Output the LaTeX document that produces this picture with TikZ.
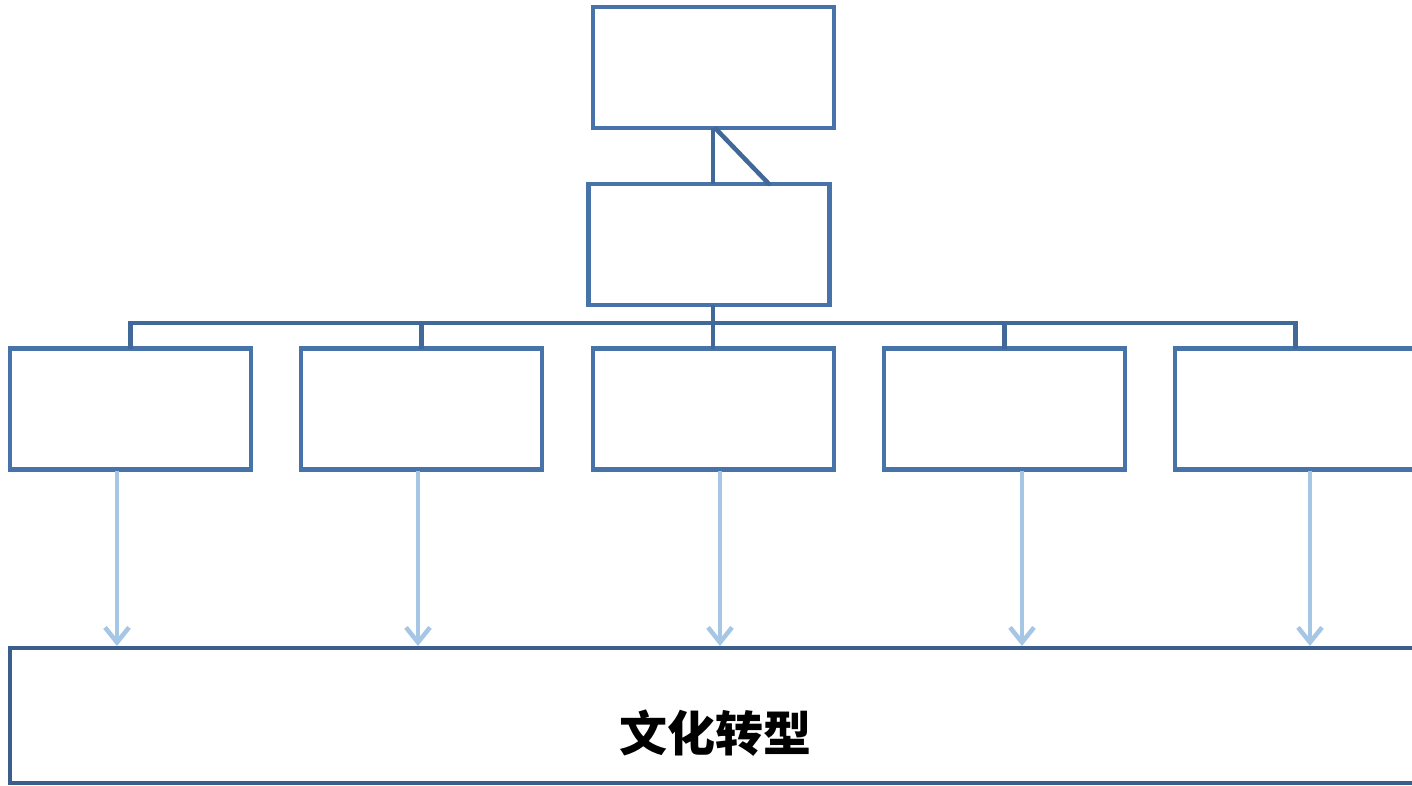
\documentclass[tikz,border=0pt]{standalone}
\usepackage{fontspec}
\newfontfamily\cjk{Noto Sans CJK SC}
\usetikzlibrary{arrows.meta,calc}
\definecolor{boxblue}{RGB}{72,115,168}
\definecolor{linkblue}{RGB}{64,104,152}
\definecolor{basblue}{RGB}{60,94,140}
\definecolor{arrblue}{RGB}{166,198,230}
\tikzset{
  box/.style={draw=boxblue, line width=4.5pt, minimum width=241pt, minimum height=121pt, inner sep=0pt, outer sep=0pt},
  link/.style={draw=linkblue, line width=4.5pt},
  flow/.style={draw=arrblue, line width=4.5pt, -{Straight Barb[length=15pt,width=24pt]}},
}
\begin{document}
\begin{tikzpicture}[x=1pt,y=-1pt]
\useasboundingbox (0,0) rectangle (1412,785);
\clip (0,0) rectangle (1412,785);
\node[box] (top) at (713.5,67.5) {};
\node[box] (mid) at (709,244.5) {};
\node[box] (b1) at (130.5,409) {};
\node[box] (b2) at (421.5,409) {};
\node[box] (b3) at (713.5,409) {};
\node[box] (b4) at (1004.5,409) {};
\node[box] (b5) at (1295.5,409) {};
\node[draw=basblue, line width=4.5pt, minimum width=1420pt, minimum height=135pt, inner sep=0pt, outer sep=0pt, anchor=north west] (base) at (10,648) {};
\node (lbl) at (715,733) {\cjk\bfseries\fontsize{48pt}{52pt}\selectfont 文化转型};
% top links
\coordinate (tj) at (713,128);
\coordinate (dj) at (769,184);
\draw[link] (tj) -- (tj |- mid.north);
\draw[link, line cap=round] ($(tj)+(3,1)$) -- (dj);
% bus
\coordinate (bus) at (713,323);
\draw[link] (bus |- mid.south) -- (bus |- b3.north);
\draw[link] (b1.north) -- (b1.north |- bus) -- (b5.north |- bus) -- (b5.north);
\draw[link] (b2.north) -- (b2.north |- bus);
\draw[link] (b4.north) -- (b4.north |- bus);
% arrows
\foreach \n/\x in {b1/117,b2/418,b3/720,b4/1022,b5/1310}{
  \draw[flow] (\x,471) -- (\x,646);
}
\end{tikzpicture}
\end{document}
